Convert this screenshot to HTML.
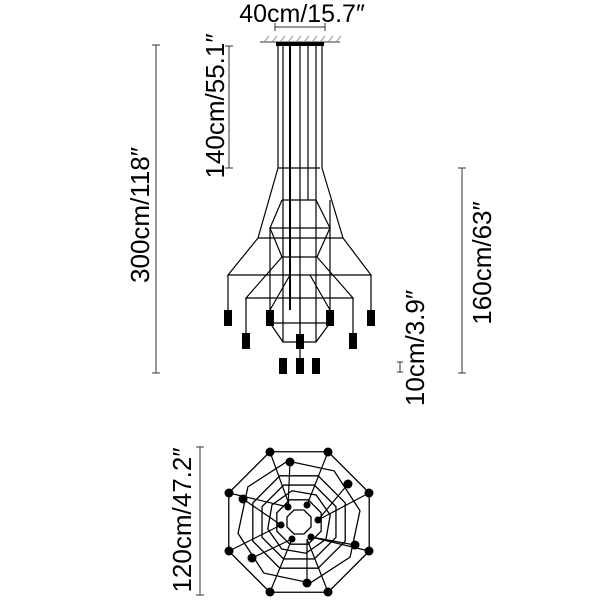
<!DOCTYPE html>
<html><head><meta charset="utf-8"><style>
html,body{margin:0;padding:0;background:#fff;}
svg{display:block;}
text{font-family:"Liberation Sans",sans-serif;fill:#000;}
</style></head><body>
<svg width="600" height="600" viewBox="0 0 600 600" xmlns="http://www.w3.org/2000/svg">
<defs>
<polygon id="oct" points="0.924,0.383 0.383,0.924 -0.383,0.924 -0.924,0.383 -0.924,-0.383 -0.383,-0.924 0.383,-0.924 0.924,-0.383" fill="none" stroke="#000" stroke-width="1.3" vector-effect="non-scaling-stroke"/>
</defs>
<text x="302" y="22" font-size="25" text-anchor="middle">40cm/15.7″</text>
<g stroke="#333" stroke-width="1" fill="none">
<line x1="275" y1="27" x2="325" y2="27"/><line x1="275" y1="23" x2="275" y2="31"/><line x1="325" y1="23" x2="325" y2="31"/>
<line x1="260" y1="42" x2="340" y2="42"/>
<path d="M264 42l5-6M272 42l5-6M280 42l5-6M288 42l5-6M296 42l5-6M304 42l5-6M312 42l5-6M320 42l5-6M328 42l5-6M336 42l5-6" stroke="#999"/>
<line x1="229" y1="46" x2="229" y2="168"/><line x1="225" y1="46" x2="233" y2="46"/><line x1="225" y1="168" x2="233" y2="168"/>
<line x1="156" y1="45" x2="156" y2="373"/><line x1="152" y1="45" x2="160" y2="45"/><line x1="152" y1="373" x2="160" y2="373"/>
<line x1="462" y1="168" x2="462" y2="373"/><line x1="458" y1="168" x2="466" y2="168"/><line x1="458" y1="373" x2="466" y2="373"/>
<line x1="400" y1="362" x2="400" y2="372"/><line x1="397" y1="362" x2="403" y2="362"/><line x1="397" y1="372" x2="403" y2="372"/>
<line x1="200" y1="447" x2="200" y2="595"/><line x1="196" y1="447" x2="204" y2="447"/><line x1="196" y1="595" x2="204" y2="595"/>
</g>
<g font-size="26" text-anchor="middle">
<text transform="translate(224,106) rotate(-90)">140cm/55.1″</text>
<text transform="translate(149,215) rotate(-90)">300cm/118″</text>
<text transform="translate(491,263) rotate(-90)">160cm/63″</text>
<text transform="translate(424,348) rotate(-90)">10cm/3.9″</text>
<text transform="translate(191,520) rotate(-90)">120cm/47.2″</text>
</g>
<rect x="276" y="42" width="48" height="4" fill="#000"/>
<g stroke="#000" stroke-width="1.2" fill="none">
<path d="M278 46V168M283 46V342M300 46V358M308 46V200M316 46V342M322 46V168"/>
<path d="M290 46V310" stroke-width="2"/>
<path d="M278 168H320M278 168L258 238H343L322 168"/>
<path d="M258 238L228 275H371L343 238M228 275V310M371 275V310"/>
<path d="M282 200H316L330 228H270L282 200M270 228L282 257H317L330 228"/>
<path d="M282 257L246 298H353L317 257M246 298V333M353 298V333"/>
<path d="M290 275L270 310M310 275L330 310M330 200V310M270 228V310"/>
<path d="M270 323H330M270 323L283 342H316L330 323M300 275V334"/>
</g>
<g fill="#000">
<rect x="224" y="310" width="8" height="16"/><rect x="266" y="310" width="8" height="16"/><rect x="326" y="310" width="8" height="16"/><rect x="367" y="310" width="8" height="16"/>
<rect x="242" y="333" width="8" height="16"/><rect x="349" y="333" width="8" height="16"/><rect x="296" y="334" width="8" height="15"/>
<rect x="279" y="358" width="8" height="16"/><rect x="296" y="358" width="8" height="16"/><rect x="312" y="358" width="8" height="16"/>
</g>
<g transform="translate(299,522)">
<use href="#oct" transform="scale(76)"/>
<use href="#oct" transform="rotate(12) scale(62)"/>
<use href="#oct" transform="scale(50)"/>
<use href="#oct" transform="scale(40)"/>
<use href="#oct" transform="rotate(10) scale(32)"/>
<use href="#oct" transform="scale(24)"/>
<use href="#oct" transform="scale(13)"/>
<g stroke="#000" stroke-width="1.2" fill="none">
<path d="M-29 -70L-9 -15M29 -70L8 -17M70 -29L19 -2M70 29L12 15M29 70L8 17M-29 70L-7 17M-70 29L-18 3M-70 -29L-11 -15"/>
<path d="M-56 -23L-18 3M49 -38L19 -2M56 23L12 15M8 61L8 17M-47 36L-7 17M-9 -60L-11 -15"/>
</g>
<g fill="#000">
<circle cx="-29" cy="-70" r="4.5"/><circle cx="29" cy="-70" r="4.5"/><circle cx="70" cy="-29" r="4.5"/><circle cx="70" cy="29" r="4.5"/>
<circle cx="29" cy="70" r="4.5"/><circle cx="-29" cy="70" r="4.5"/><circle cx="-70" cy="29" r="4.5"/><circle cx="-70" cy="-29" r="4.5"/>
<circle cx="-9" cy="-60" r="4.5"/><circle cx="49" cy="-38" r="4.5"/><circle cx="56" cy="23" r="4.5"/><circle cx="8" cy="61" r="4.5"/><circle cx="-47" cy="36" r="4.5"/><circle cx="-56" cy="-23" r="4.5"/>
<circle cx="-11" cy="-15" r="3.5"/><circle cx="8" cy="-17" r="3.5"/><circle cx="19" cy="-2" r="3.5"/><circle cx="12" cy="15" r="3.5"/><circle cx="-7" cy="17" r="3.5"/><circle cx="-18" cy="3" r="3.5"/>
</g>
</g>
</svg>
</body></html>
